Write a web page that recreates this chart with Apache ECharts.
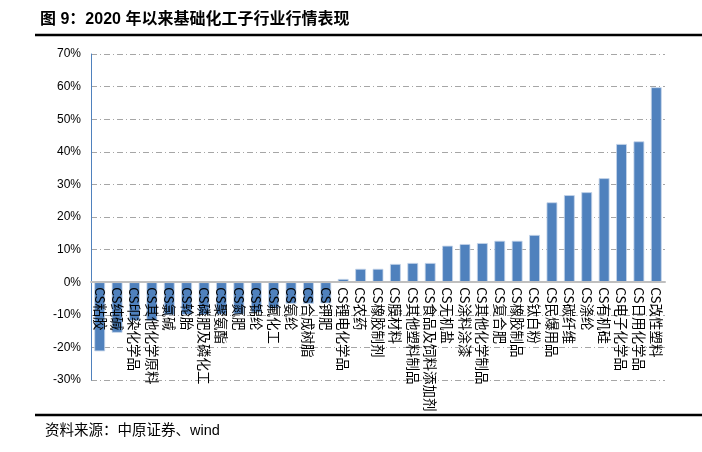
<!DOCTYPE html>
<html><head><meta charset="utf-8">
<script src="https://cdn.jsdelivr.net/npm/echarts@6/dist/echarts.min.js"></script>
<style>html,body{margin:0;padding:0;background:#fff}#c{width:702px;height:452px}</style>
</head><body><div id="c"></div>
<script>
var categories = ['CS粘胶','CS纯碱','CS印染化学品','CS其他化学原料','CS氯碱','CS轮胎','CS磷肥及磷化工','CS聚氨酯','CS氮肥','CS锦纶','CS氟化工','CS氨纶','CS合成树脂','CS钾肥','CS锂电化学品','CS农药','CS橡胶制剂','CS膜材料','CS其他塑料制品','CS食品及饲料添加剂','CS无机盐','CS涂料涂漆','CS其他化学制品','CS复合肥','CS橡胶制品','CS钛白粉','CS民爆用品','CS碳纤维','CS涤纶','CS有机硅','CS电子化学品','CS日用化学品','CS改性塑料'];
var values = [-21.2,-15.5,-11.8,-11.8,-10.1,-10.0,-10.0,-9.9,-9.9,-9.3,-8.1,-6.6,-6.6,-6.5,1.0,4.1,4.1,5.6,5.9,5.9,11.2,11.7,12.0,12.7,12.7,14.5,24.5,26.7,27.6,31.9,42.4,43.2,59.8];
var yTicks = {min:-30, max:70, interval:10};
var titleText = '图 9：2020 年以来基础化工子行业行情表现';
var sourceText = '资料来源：中原证券、wind';

var W = 702, H = 452;
var gridTop = 54, gridBottom = 72;
var plotH = H - gridTop - gridBottom;
var zeroOffset = plotH * (0 - yTicks.min) / (yTicks.max - yTicks.min);

var chart = echarts.init(document.getElementById('c'), null, {renderer:'canvas'});
var FF = '"Liberation Sans", Arial, "Noto Sans CJK SC", sans-serif';
chart.setOption({
  animation:false,
  textStyle:{fontFamily:FF},
  grid:{left:91, right:37, top:gridTop, bottom:gridBottom, containLabel:false, outerBoundsMode:'none'},
  graphic:[
    {type:'text', left:40, top:12, style:{text:titleText, font:'bold 16px "Liberation Sans","Noto Sans CJK SC",sans-serif', fill:'#000'}},
    {type:'line', shape:{x1:35,y1:35,x2:702,y2:35}, style:{stroke:'#000', lineWidth:2.5}},
    {type:'line', shape:{x1:35,y1:415,x2:702,y2:415}, style:{stroke:'#000', lineWidth:2.5}},
    {type:'text', left:45, top:424, style:{text:sourceText, font:'14.5px "Liberation Sans","Noto Sans CJK SC",sans-serif', fill:'#000'}}
  ],
  xAxis:{
    type:'category', data:categories,
    offset:-zeroOffset,
    z:5,
    axisLine:{onZero:false, lineStyle:{color:'#bfbfbf', width:2}},
    axisTick:{show:false},
    axisLabel:{rotate:-90, interval:0, fontSize:13.5, color:'#000', margin:5, fontFamily:'"Noto Sans CJK SC", sans-serif'},
    splitLine:{show:false}
  },
  yAxis:{
    type:'value', min:yTicks.min, max:yTicks.max, interval:yTicks.interval,
    axisLine:{show:true, lineStyle:{color:'#4f81bd', width:1}},
    axisTick:{show:false},
    axisLabel:{formatter:'{value}%', fontSize:12, color:'#000', margin:10},
    splitLine:{show:true, lineStyle:{color:'#a6a6a6', width:1, type:[6,3,1,3]}}
  },
  series:[{
    type:'bar', data:values, barWidth:'62%', z:2,
    itemStyle:{color:'#4f81bd', borderColor:'#c6d5ea', borderWidth:0.8}
  }]
});
</script></body></html>
